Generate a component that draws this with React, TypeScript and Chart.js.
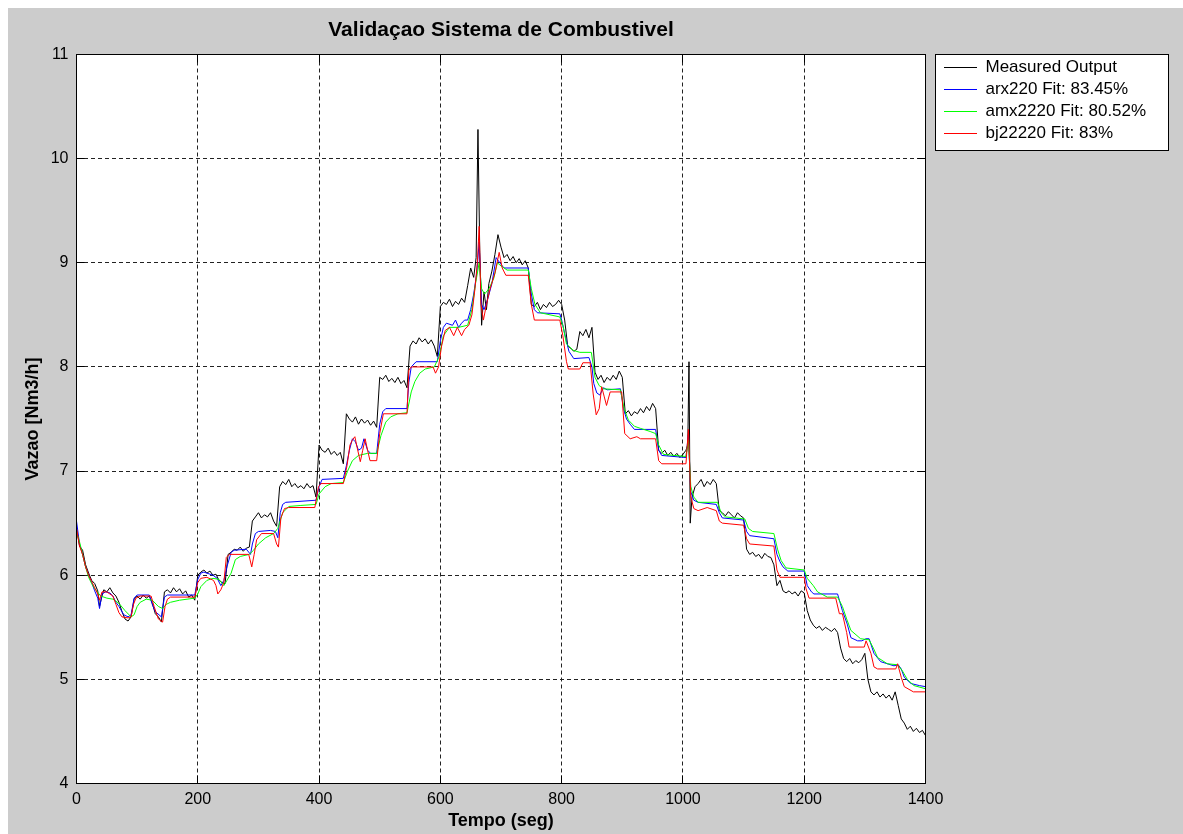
import React, { useEffect, useRef } from "react";
import { Chart, registerables } from "chart.js";

Chart.register(...registerables);

const FONT_FAMILY = '"Liberation Sans", Arial, Helvetica, sans-serif';

const chartTitle = "Validaçao Sistema de Combustivel";
const xAxisTitle = "Tempo (seg)";
const yAxisTitle = "Vazao [Nm3/h]";
const seriesLabels = ["Measured Output", "arx220 Fit: 83.45%", "amx2220 Fit: 80.52%", "bj22220 Fit: 83%"];
const seriesColors = ["#000000", "#0000ff", "#00ff00", "#ff0000"];
const xTicks = [0, 200, 400, 600, 800, 1000, 1200, 1400];
const yTicks = [4, 5, 6, 7, 8, 9, 10, 11];

// Measured Output
const measuredTime = [
  0, 5, 10, 15, 20, 25, 30, 35, 38, 42, 45, 50, 55, 60, 65, 70, 75, 80, 85, 90,
  95, 100, 105, 110, 115, 120, 125, 130, 135, 140, 145, 150, 155, 160, 165, 170, 175, 180, 185, 190,
  195, 200, 205, 210, 215, 220, 225, 230, 235, 240, 245, 250, 255, 260, 265, 270, 275, 280, 285, 290,
  295, 300, 305, 310, 315, 320, 325, 330, 335, 340, 345, 350, 355, 360, 365, 370, 375, 380, 385, 390,
  395, 400, 405, 410, 415, 420, 425, 430, 435, 440, 445, 450, 455, 460, 465, 470, 475, 480, 485, 490,
  495, 500, 505, 510, 515, 520, 525, 530, 535, 540, 545, 550, 555, 560, 565, 570, 575, 580, 585, 590,
  595, 600, 605, 610, 615, 620, 625, 630, 635, 640, 645, 650, 655, 659, 662, 665, 668, 672, 676, 680,
  685, 690, 695, 700, 705, 710, 715, 720, 725, 730, 735, 740, 745, 750, 755, 760, 765, 770, 775, 780,
  785, 790, 795, 800, 805, 810, 815, 820, 825, 830, 835, 840, 845, 850, 855, 860, 865, 870, 875, 880,
  885, 890, 895, 900, 905, 910, 915, 920, 925, 930, 935, 940, 945, 950, 955, 960, 965, 970, 975, 980,
  985, 990, 995, 1000, 1005, 1008, 1010, 1012, 1015, 1020, 1025, 1030, 1035, 1040, 1045, 1050, 1055, 1060, 1065, 1070,
  1075, 1080, 1085, 1090, 1095, 1100, 1105, 1110, 1115, 1120, 1125, 1130, 1135, 1140, 1145, 1150, 1155, 1160, 1165, 1170,
  1175, 1180, 1185, 1190, 1195, 1200, 1205, 1210, 1215, 1220, 1225, 1230, 1235, 1240, 1245, 1250, 1255, 1260, 1265, 1270,
  1275, 1280, 1285, 1290, 1295, 1300, 1305, 1310, 1315, 1320, 1325, 1330, 1335, 1340, 1345, 1350, 1355, 1360, 1365, 1370,
  1375, 1380, 1385, 1390, 1395, 1400,
];
const measuredValue = [
  6.45, 6.28, 6.24, 6.1, 6.02, 5.95, 5.92, 5.85, 5.7, 5.8, 5.86, 5.84, 5.88, 5.83, 5.8, 5.74, 5.65, 5.58, 5.56, 5.6,
  5.77, 5.8, 5.77, 5.81, 5.78, 5.8, 5.73, 5.63, 5.6, 5.55, 5.84, 5.86, 5.83, 5.88, 5.84, 5.87, 5.82, 5.85, 5.79, 5.81,
  5.76, 6.0, 6.03, 6.05, 6.02, 6.04, 6.0, 6.01, 5.95, 5.93, 5.92, 6.2, 6.22, 6.25, 6.24, 6.27, 6.23, 6.26, 6.27, 6.52,
  6.56, 6.6, 6.55, 6.58, 6.56, 6.6, 6.52, 6.47, 6.85, 6.9, 6.87, 6.92, 6.85, 6.88, 6.84, 6.86, 6.83, 6.88, 6.84, 6.86,
  6.75, 7.25, 7.2, 7.18, 7.22, 7.16, 7.19, 7.15, 7.18, 7.07, 7.55, 7.5, 7.47, 7.52, 7.45, 7.5, 7.46, 7.49, 7.44, 7.48,
  7.42, 7.9, 7.88, 7.92, 7.86, 7.89, 7.85, 7.9, 7.84, 7.87, 7.8, 8.2, 8.25, 8.22, 8.28, 8.24, 8.27, 8.22, 8.26, 8.2,
  8.1, 8.58, 8.62, 8.6, 8.65, 8.58, 8.63, 8.6, 8.66, 8.62, 8.78, 8.95, 8.86, 9.05, 10.28, 9.1, 8.4, 8.72, 8.55, 8.8,
  8.92, 9.08, 9.27, 9.15, 9.05, 9.08, 9.02, 9.06, 9.0, 9.04, 8.98, 9.02, 8.95, 8.6, 8.58, 8.62, 8.55, 8.6, 8.57, 8.62,
  8.58, 8.6, 8.64, 8.6, 8.45, 8.2, 8.18, 8.15, 8.17, 8.34, 8.3, 8.36, 8.28, 8.38, 7.95, 7.88, 7.92, 7.85, 7.9, 7.87,
  7.92, 7.88, 7.96, 7.9, 7.55, 7.58, 7.53, 7.57, 7.55, 7.6, 7.56, 7.62, 7.58, 7.65, 7.6, 7.2, 7.17, 7.2, 7.15, 7.18,
  7.14, 7.17, 7.13, 7.16, 7.2, 7.25, 8.05, 6.5, 6.75, 6.85, 6.88, 6.92, 6.85, 6.9, 6.87, 6.92, 6.88, 6.62, 6.6, 6.57,
  6.61, 6.58, 6.55, 6.6, 6.57, 6.55, 6.25, 6.2, 6.22, 6.18, 6.2, 6.16, 6.21, 6.18, 6.17, 6.1, 5.9, 5.95, 5.85, 5.83,
  5.85, 5.82, 5.84, 5.8, 5.85, 5.83, 5.66, 5.57, 5.52, 5.49, 5.51, 5.47, 5.5, 5.48, 5.46, 5.49, 5.45, 5.3, 5.2, 5.17,
  5.2, 5.15, 5.18, 5.16, 5.19, 5.25, 5.0, 4.88, 4.85, 4.88, 4.83, 4.86, 4.82, 4.85, 4.8, 4.88, 4.75, 4.62, 4.58, 4.52,
  4.55, 4.5, 4.53, 4.49, 4.51, 4.46,
];

// arx220
const arxTime = [
  0, 5, 10, 15, 20, 25, 30, 35, 38, 42, 48, 55, 60, 65, 70, 78, 85, 90, 95, 100,
  120, 125, 130, 140, 145, 150, 195, 200, 205, 210, 225, 232, 238, 243, 248, 255, 260, 280, 287, 290,
  295, 300, 320, 328, 332, 336, 340, 345, 395, 400, 405, 440, 445, 450, 455, 460, 465, 470, 474, 480,
  485, 495, 500, 505, 510, 545, 548, 552, 560, 595, 600, 605, 610, 620, 625, 630, 635, 640, 645, 650,
  655, 660, 664, 668, 672, 678, 685, 692, 698, 705, 745, 750, 755, 760, 797, 800, 805, 812, 820, 845,
  850, 853, 858, 863, 869, 875, 897, 902, 907, 913, 920, 955, 960, 965, 1005, 1009, 1013, 1018, 1025, 1055,
  1060, 1065, 1100, 1105, 1110, 1150, 1155, 1160, 1165, 1173, 1200, 1205, 1212, 1216, 1255, 1263, 1271, 1277, 1288, 1295,
  1302, 1307, 1315, 1326, 1348, 1355, 1360, 1365, 1376, 1390, 1400,
];
const arxValue = [
  6.52, 6.3, 6.2, 6.08, 6.0, 5.93, 5.85, 5.78, 5.68, 5.82, 5.84, 5.83, 5.8, 5.74, 5.7, 5.62, 5.6, 5.62, 5.78, 5.81,
  5.81, 5.72, 5.65, 5.6, 5.79, 5.81, 5.81, 5.96, 6.02, 6.03, 6.0, 5.97, 5.9, 5.95, 6.08, 6.22, 6.24, 6.25, 6.2, 6.3,
  6.4, 6.42, 6.43, 6.42, 6.36, 6.6, 6.68, 6.7, 6.72, 6.85, 6.92, 6.93, 7.05, 7.2, 7.31, 7.28, 7.2, 7.22, 7.31, 7.2,
  7.17, 7.17, 7.45, 7.57, 7.6, 7.6, 7.85, 8.0, 8.05, 8.05, 8.25, 8.38, 8.42, 8.4, 8.45, 8.38, 8.42, 8.45, 8.45, 8.55,
  8.7, 8.9, 9.2, 8.6, 8.55, 8.65, 8.8, 9.05, 9.0, 8.95, 8.95, 8.7, 8.55, 8.52, 8.51, 8.45, 8.32, 8.15, 8.08, 8.09,
  8.0, 7.84, 7.75, 7.73, 7.8, 7.78, 7.79, 7.6, 7.5, 7.45, 7.4, 7.4, 7.2, 7.15, 7.13, 7.35, 6.8, 6.72, 6.7, 6.68,
  6.6, 6.55, 6.53, 6.42, 6.38, 6.35, 6.2, 6.13, 6.08, 6.04, 6.04, 5.9, 5.84, 5.82, 5.82, 5.66, 5.53, 5.4, 5.37, 5.37,
  5.39, 5.39, 5.25, 5.17, 5.13, 5.14, 5.1, 5.02, 4.96, 4.94, 4.93,
];

// amx2220
const amxTime = [
  0, 5, 10, 15, 20, 25, 30, 40, 50, 60, 70, 80, 90, 95, 100, 105, 115, 125, 135, 142,
  148, 155, 170, 195, 200, 205, 215, 225, 235, 243, 248, 255, 262, 270, 285, 292, 300, 312, 325, 332,
  340, 350, 370, 395, 400, 410, 420, 440, 447, 455, 465, 480, 495, 502, 510, 518, 530, 545, 552, 558,
  566, 575, 590, 598, 605, 615, 630, 645, 652, 658, 664, 668, 673, 680, 688, 694, 700, 710, 745, 750,
  756, 765, 797, 802, 808, 819, 830, 849, 855, 862, 869, 897, 903, 910, 920, 930, 946, 955, 960, 968,
  1005, 1009, 1013, 1018, 1025, 1057, 1063, 1070, 1102, 1108, 1115, 1150, 1156, 1162, 1170, 1200, 1205, 1215, 1222, 1238,
  1255, 1263, 1270, 1277, 1293, 1307, 1314, 1321, 1337, 1354, 1362, 1370, 1381, 1400,
];
const amxValue = [
  6.42, 6.32, 6.2, 6.08, 5.98, 5.92, 5.87, 5.8, 5.78, 5.77, 5.73, 5.66, 5.6, 5.62, 5.7, 5.74, 5.77, 5.76, 5.7, 5.68,
  5.72, 5.74, 5.76, 5.78, 5.82, 5.89, 5.95, 5.97, 5.96, 5.9, 5.95, 6.02, 6.15, 6.18, 6.2, 6.24, 6.3, 6.36, 6.4, 6.45,
  6.6, 6.66, 6.67, 6.68, 6.78, 6.85, 6.88, 6.89, 7.0, 7.1, 7.15, 7.17, 7.17, 7.34, 7.47, 7.52, 7.55, 7.56, 7.76, 7.86,
  7.94, 7.98, 8.0, 8.1, 8.3, 8.38, 8.38, 8.4, 8.55, 8.8, 9.0, 8.75, 8.7, 8.75, 8.85, 9.0, 8.97, 8.93, 8.93, 8.75,
  8.6, 8.52, 8.48, 8.4, 8.22, 8.16, 8.14, 8.14, 7.9, 7.82, 7.79, 7.78, 7.6, 7.49, 7.43, 7.41, 7.38, 7.36, 7.25, 7.16,
  7.14, 7.3, 6.85, 6.75, 6.7, 6.7, 6.6, 6.56, 6.54, 6.45, 6.42, 6.4, 6.25, 6.14, 6.07, 6.05, 5.97, 5.9, 5.84, 5.79,
  5.79, 5.7, 5.58, 5.47, 5.39, 5.38, 5.3, 5.21, 5.15, 5.14, 5.08, 5.0, 4.94, 4.91,
];

// bj22220
const bjTime = [
  0, 5, 10, 15, 20, 25, 30, 35, 38, 42, 50, 60, 65, 70, 75, 85, 90, 94, 98, 105,
  123, 128, 135, 142, 146, 150, 155, 195, 200, 205, 215, 226, 230, 233, 238, 243, 247, 252, 284, 289,
  293, 297, 305, 325, 330, 333, 337, 343, 350, 393, 399, 403, 440, 446, 451, 455, 459, 463, 468, 472,
  476, 480, 484, 495, 500, 506, 545, 548, 552, 588, 592, 597, 602, 608, 615, 622, 628, 635, 640, 647,
  652, 657, 661, 664, 667, 671, 676, 682, 690, 697, 702, 708, 745, 750, 755, 797, 802, 808, 811, 830,
  835, 847, 852, 857, 862, 866, 870, 874, 880, 899, 904, 913, 924, 930, 955, 960, 965, 1005, 1009, 1013,
  1018, 1025, 1040, 1055, 1060, 1065, 1100, 1105, 1110, 1150, 1155, 1160, 1200, 1203, 1208, 1252, 1258, 1263, 1270, 1274,
  1299, 1302, 1310, 1315, 1321, 1351, 1354, 1360, 1365, 1380, 1400,
];
const bjValue = [
  6.45, 6.28, 6.2, 6.08, 6.0, 5.94, 5.88, 5.82, 5.76, 5.84, 5.84, 5.8, 5.72, 5.64, 5.6, 5.59, 5.6, 5.72, 5.78, 5.8,
  5.8, 5.7, 5.58, 5.55, 5.7, 5.77, 5.79, 5.79, 5.93, 5.97, 5.98, 5.95, 5.9, 5.82, 5.86, 5.93, 6.17, 6.2, 6.2, 6.08,
  6.2, 6.34, 6.4, 6.4, 6.3, 6.27, 6.55, 6.64, 6.65, 6.65, 6.85, 6.88, 6.88, 7.05, 7.25, 7.3, 7.33, 7.22, 7.09, 7.2,
  7.31, 7.2, 7.1, 7.1, 7.36, 7.55, 7.55, 7.97, 8.0, 8.0, 7.94, 8.0, 8.2, 8.35, 8.38, 8.3, 8.38, 8.3, 8.36, 8.4,
  8.5, 8.75, 9.0, 9.35, 8.6, 8.45, 8.6, 8.75, 8.9, 9.1, 8.95, 8.88, 8.88, 8.6, 8.45, 8.45, 8.3, 8.05, 7.98, 7.98,
  8.04, 8.04, 7.74, 7.54, 7.6, 7.81, 7.72, 7.63, 7.76, 7.76, 7.36, 7.31, 7.33, 7.31, 7.31, 7.1, 7.07, 7.07, 7.4, 6.75,
  6.64, 6.62, 6.65, 6.62, 6.52, 6.5, 6.48, 6.35, 6.3, 6.28, 6.05, 5.98, 5.98, 5.87, 5.78, 5.78, 5.63, 5.63, 5.45, 5.31,
  5.31, 5.37, 5.25, 5.12, 5.1, 5.1, 5.15, 5.02, 4.93, 4.88, 4.88,
];

const seriesTimes = [measuredTime, arxTime, amxTime, bjTime];
const seriesValues = [measuredValue, arxValue, amxValue, bjValue];

const toPoints = (t: number[], v: number[]) => t.map((x, i) => ({ x, y: v[i] }));

const LEGEND_FONT = 17;
const LEGEND_PAD = 5;
const LEGEND_LINE = 33;
const LEGEND_LEFT = 931;
const LEGEND_TOP = 46;
const TICK_IN = 8;

const align = (p: number) => Math.round(p - 0.5) + 0.5;

const framePlugin = {
  id: "matlabFrame",
  afterLayout(chart: any) {
    const lg = chart.legend;
    if (!lg) return;
    const w = lg.width;
    const h = lg.height;
    lg.left = LEGEND_LEFT;
    lg.right = LEGEND_LEFT + w;
    lg.top = LEGEND_TOP;
    lg.bottom = LEGEND_TOP + h;
  },
  beforeDraw(chart: any) {
    const { ctx, width, height, chartArea: a } = chart;
    ctx.save();
    ctx.fillStyle = "#cccccc";
    ctx.fillRect(0, 0, width, height);
    ctx.fillStyle = "#ffffff";
    ctx.fillRect(a.left, a.top, a.right - a.left, a.bottom - a.top);
    const bx = LEGEND_LEFT - 3.5;
    const by = LEGEND_TOP + 0.5;
    const bw = 233;
    const bh = 2 * LEGEND_PAD + 4 * (LEGEND_FONT + LEGEND_PAD) - 2;
    ctx.fillRect(bx, by, bw, bh);
    ctx.strokeStyle = "#000000";
    ctx.lineWidth = 1;
    ctx.strokeRect(bx, by, bw, bh);
    ctx.restore();
  },
  afterDraw(chart: any) {
    const { ctx, chartArea: a, scales } = chart;
    const L = align(a.left);
    const R = align(a.right);
    const T = align(a.top);
    const B = align(a.bottom);
    ctx.save();
    ctx.strokeStyle = "#000000";
    ctx.lineWidth = 1;
    ctx.beginPath();
    scales.x.ticks.forEach((t: any) => {
      const p = align(scales.x.getPixelForValue(t.value));
      ctx.moveTo(p, B);
      ctx.lineTo(p, B - TICK_IN);
      ctx.moveTo(p, T);
      ctx.lineTo(p, T + TICK_IN);
    });
    scales.y.ticks.forEach((t: any) => {
      const p = align(scales.y.getPixelForValue(t.value));
      ctx.moveTo(L, p);
      ctx.lineTo(L + TICK_IN, p);
      ctx.moveTo(R, p);
      ctx.lineTo(R - TICK_IN, p);
    });
    ctx.stroke();
    ctx.strokeRect(L, T, R - L, B - T);
    ctx.restore();
  },
};

export default function App() {
  const ref = useRef<HTMLCanvasElement | null>(null);

  useEffect(() => {
    if (!ref.current) return;
    const datasets = seriesLabels.map((label, i) => ({
      label,
      data: toPoints(seriesTimes[i], seriesValues[i]),
      borderColor: seriesColors[i],
      backgroundColor: seriesColors[i],
      pointBorderColor: seriesColors[i],
      pointBackgroundColor: seriesColors[i],
      pointBorderWidth: 1,
      borderWidth: 1,
      pointRadius: 0,
      pointHoverRadius: 0,
      tension: 0,
      fill: false,
      order: seriesLabels.length - i,
    }));

    const chart = new Chart(ref.current, {
      type: "line",
      data: { datasets },
      plugins: [framePlugin],
      options: {
        animation: false,
        responsive: false,
        devicePixelRatio: 1,
        layout: { padding: { left: 0, right: 257.5, top: 0, bottom: 0 } },
        font: { family: FONT_FAMILY },
        scales: {
          x: {
            type: "linear",
            min: 0,
            max: 1400,
            afterBuildTicks: (s: any) => {
              s.ticks = xTicks.map((v) => ({ value: v }));
            },
            afterFit: (s: any) => {
              s.height = 50.5;
            },
            ticks: {
              color: "#000000",
              font: { family: FONT_FAMILY, size: 16 },
              padding: 6,
              maxRotation: 0,
              autoSkip: false,
              callback: (v: any) => String(v),
            },
            grid: { color: "#222222", lineWidth: 1, drawTicks: false },
            border: { display: false, dash: [4, 3] },
            title: {
              display: true,
              text: xAxisTitle,
              color: "#000000",
              font: { family: FONT_FAMILY, size: 18, weight: "bold" },
              padding: { top: 0, bottom: 2 },
            },
          },
          y: {
            type: "linear",
            min: 4,
            max: 11,
            afterBuildTicks: (s: any) => {
              s.ticks = yTicks.map((v) => ({ value: v }));
            },
            afterFit: (s: any) => {
              s.width = 68.5;
            },
            ticks: {
              color: "#000000",
              font: { family: FONT_FAMILY, size: 16 },
              padding: 8,
              autoSkip: false,
              callback: (v: any) => String(v),
            },
            grid: { color: "#222222", lineWidth: 1, drawTicks: false },
            border: { display: false, dash: [4, 3] },
            title: {
              display: true,
              text: yAxisTitle,
              color: "#000000",
              font: { family: FONT_FAMILY, size: 18, weight: "bold" },
              padding: { top: 14, bottom: 0 },
            },
          },
        },
        plugins: {
          title: {
            display: true,
            text: chartTitle,
            fullSize: false,
            color: "#000000",
            font: { family: FONT_FAMILY, size: 21, weight: "bold" },
            padding: { top: 9.9, bottom: 11.4 },
          },
          legend: {
            display: true,
            position: "chartArea",
            align: "start",
            labels: {
              color: "#000000",
              font: { family: FONT_FAMILY, size: LEGEND_FONT },
              padding: LEGEND_PAD,
              usePointStyle: true,
              pointStyle: "line",
              pointStyleWidth: LEGEND_LINE,
              sort: (a: any, b: any) => a.datasetIndex - b.datasetIndex,
            },
          },
          tooltip: { enabled: false },
        },
      },
    } as any);

    return () => chart.destroy();
  }, []);

  return (
    <div style={{ position: "fixed", left: 8, top: 8, width: 1175, height: 826 }}>
      <canvas ref={ref} width={1175} height={826} style={{ display: "block" }} />
    </div>
  );
}
